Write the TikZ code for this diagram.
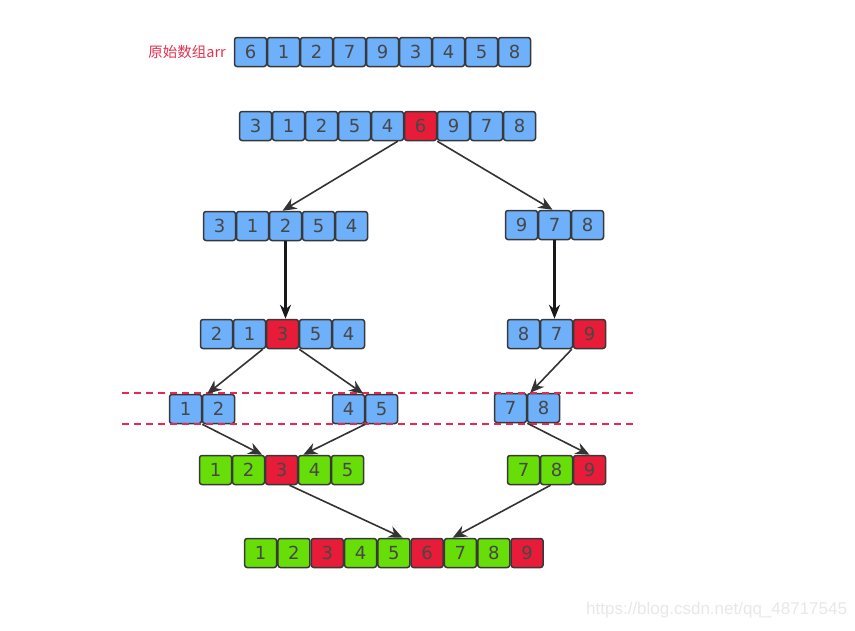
\documentclass[tikz,border=0pt]{standalone}
\usepackage{fontspec}
\setmainfont{DejaVu Sans}
\newfontfamily\cjkfont{Noto Sans CJK SC}
\newfontfamily\wmfont{Liberation Sans}
\usetikzlibrary{arrows.meta}
\definecolor{cblue}{RGB}{110,176,250}
\definecolor{cred}{RGB}{232,28,56}
\definecolor{cgreen}{RGB}{104,222,8}
\definecolor{clabel}{RGB}{226,50,80}
\definecolor{cdash}{RGB}{232,40,80}
\tikzset{
  cell/.style={draw=black!78, line width=1.5pt, rounded corners=2.5pt,
    minimum width=32pt, minimum height=29pt, inner sep=0pt,
    font=\fontsize{18}{18}\selectfont, text=black!72},
  bl/.style={cell, fill=cblue},
  rd/.style={cell, fill=cred},
  gr/.style={cell, fill=cgreen},
  arr/.style={draw=black!80, line width=1.6pt, -{Stealth[length=14pt,width=12pt]}},
  thickarr/.style={draw=black!90, line width=2.2pt, -{Stealth[length=14pt,width=11pt]}},
  cut/.style={draw=cdash, line width=1.3pt, dash pattern=on 7pt off 5pt},
}
% #1 name prefix, #2 left x, #3 centre y, #4 cell width, #5 list value/style
\newcommand\cellrow[5]{%
  \foreach \v/\s [count=\i] in {#5} {
    \node[\s] (#1-\i) at ({#2+#4*(\i-0.5)}, #3) {\v};
  }%
}
\begin{document}
\begin{tikzpicture}[x=1pt, y=-1pt]
\useasboundingbox[fill=white] (0,0) rectangle (855,630);

% label
\node[text=clabel, font=\cjkfont\fontsize{14.5}{14.5}\selectfont, anchor=east, inner sep=0pt] (lbl) at (226,52) {原始数组arr};

% row 1
\cellrow{ra}{234}{52}{33}{6/bl,1/bl,2/bl,7/bl,9/bl,3/bl,4/bl,5/bl,8/bl}
% row 2
\cellrow{rb}{239}{126}{33}{3/bl,1/bl,2/bl,5/bl,4/bl,6/rd,9/bl,7/bl,8/bl}
% row 3
\cellrow{rcl}{203}{226}{33}{3/bl,1/bl,2/bl,5/bl,4/bl}
\cellrow{rcr}{505}{225}{33}{9/bl,7/bl,8/bl}
% row 4
\cellrow{rdl}{200}{334}{33}{2/bl,1/bl,3/rd,5/bl,4/bl}
\cellrow{rdr}{507}{334}{33}{8/bl,7/bl,9/rd}
% row 5
\cellrow{rea}{169}{409}{33}{1/bl,2/bl}
\cellrow{reb}{332}{409}{33}{4/bl,5/bl}
\cellrow{rec}{494}{408}{33}{7/bl,8/bl}
% row 6
\cellrow{rfl}{199}{470}{33}{1/gr,2/gr,3/rd,4/gr,5/gr}
\cellrow{rfr}{507}{470}{33}{7/gr,8/gr,9/rd}
% row 7
\cellrow{rg}{244}{553}{33.3}{1/gr,2/gr,3/rd,4/gr,5/gr,6/rd,7/gr,8/gr,9/rd}

% dashed cut lines
\coordinate (d1a) at (122,393); \coordinate (d1b) at (637,393);
\coordinate (d2a) at (122,424); \coordinate (d2b) at (637,424);
\draw[cut] (d1a) -- (d1b);
\draw[cut] (d2a) -- (d2b);

% arrows
\draw[arr] ([xshift=-6pt]rb-6.south west) -- ([xshift=-3pt]rcl-3.north);
\draw[arr] (rb-6.south east) -- ([xshift=-2pt]rcr-2.north);
\draw[thickarr] (rcl-3.south) -- ([xshift=3pt]rdl-3.north);
\draw[thickarr] (rcr-2.south) -- ([xshift=-2pt]rdr-2.north);
\draw[arr] ([xshift=-3pt]rdl-3.south west) -- ([xshift=5pt]rea-1.north east);
\draw[arr] (rdl-3.south east) -- ([xshift=-2pt]reb-1.north east);
\draw[arr] ([xshift=-1pt]rdr-3.south west) -- ([xshift=3pt]rec-1.north east);
\draw[arr] (rea-1.south east) -- ([xshift=-3pt]rfl-2.north east);
\draw[arr] (reb-1.south east) -- ([xshift=5pt]rfl-3.north east);
\draw[arr] (rec-1.south east) -- (rfr-3.north);
\draw[arr] ([xshift=8pt]rfl-3.south) -- ([xshift=-8pt]rg-5.north east);
\draw[arr] ([xshift=-6pt]rfr-2.south) -- ([xshift=9pt]rg-7.north west);

% watermark
\node[text=black!9, font=\wmfont\fontsize{17}{17}\selectfont, anchor=west, inner sep=0pt] (wm) at (586,610) {https://blog.csdn.net/qq\_48717545};
\end{tikzpicture}
\end{document}
